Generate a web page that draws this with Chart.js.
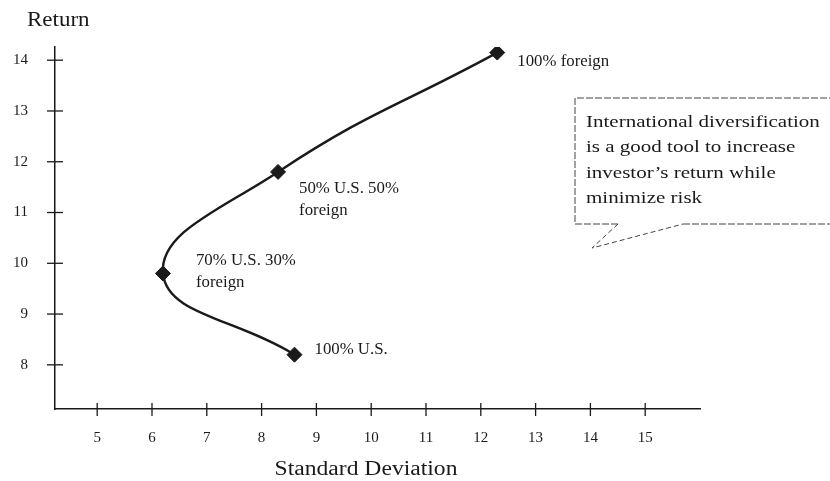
<!DOCTYPE html>
<html>
<head>
<meta charset="utf-8" />
<title>International Diversification</title>
<script src="https://cdn.jsdelivr.net/npm/chart.js"></script>
<style>
    body { margin: 0; padding: 0; background: #fff; }
    #wrap { width: 830px; height: 481px; }
</style>
</head>
<body>
<div id="wrap"><canvas id="chart" width="830" height="481"></canvas></div>
<script>
// portfolio mixes along the frontier, from all U.S. to all foreign
var mixLabels = [['100% U.S.'], ['70% U.S. 30%', 'foreign'], ['50% U.S. 50%', 'foreign'], ['100% foreign']];
var stdDev = [8.6, 6.2, 8.3, 12.3];
var returns = [8.2, 9.8, 11.8, 14.15];

// axis tick labels
var xTicks = [5, 6, 7, 8, 9, 10, 11, 12, 13, 14, 15];
var yTicks = [8, 9, 10, 11, 12, 13, 14];

var noteLines = ['International diversification', 'is a good tool to increase', 'investor\u2019s return while', 'minimize risk'];

var SERIF = '"Liberation Serif", "Times New Roman", serif';
var INK = '#1a1a1a';

// label offsets from each marker, in pixels
var labelOffsets = [[20, -5], [33, -13], [21, 17], [20, 9]];

// scanned text looks a bit wider than the font, so stretch it
function stretchText(ctx, text, x, y, size, sx) {
    ctx.save();
    ctx.font = size + 'px ' + SERIF;
    ctx.translate(x, y);
    ctx.scale(sx, 1);
    ctx.fillText(text, 0, 0);
    ctx.restore();
}

var decor = {
    id: 'decor',
    afterDraw: function(chart) {
        var ctx = chart.ctx, xs = chart.scales.x, ys = chart.scales.y;
        var area = chart.chartArea;
        ctx.save();

        // small crosses where the ticks sit
        ctx.strokeStyle = INK;
        ctx.lineWidth = 1.3;
        yTicks.forEach(function(v) {
            var py = ys.getPixelForValue(v);
            ctx.beginPath();
            ctx.moveTo(area.left - 8, py);
            ctx.lineTo(area.left + 8, py);
            ctx.stroke();
        });
        xTicks.forEach(function(v) {
            var px = xs.getPixelForValue(v);
            ctx.beginPath();
            ctx.moveTo(px, area.bottom - 6);
            ctx.lineTo(px, area.bottom + 7);
            ctx.stroke();
        });

        // axis titles
        ctx.fillStyle = INK;
        ctx.textBaseline = 'middle';
        ctx.textAlign = 'left';
        stretchText(ctx, 'Return', 27, 21, 20, 1.15);
        ctx.textAlign = 'center';
        stretchText(ctx, 'Standard Deviation', 366, 470, 20, 1.18);

        // labels next to the points
        ctx.textAlign = 'left';
        mixLabels.forEach(function(lines, i) {
            var px = xs.getPixelForValue(stdDev[i]) + labelOffsets[i][0];
            var py = ys.getPixelForValue(returns[i]) + labelOffsets[i][1];
            lines.forEach(function(t, k) {
                stretchText(ctx, t, px, py + k * 22, 16, 1.05);
            });
        });

        // callout box
        var bx = 575, by = 98, bw = 262, bh = 126;
        ctx.strokeStyle = '#444';
        ctx.lineWidth = 1;
        ctx.setLineDash([7, 2]);
        ctx.beginPath();
        ctx.moveTo(618, by + bh);
        ctx.lineTo(bx, by + bh);
        ctx.lineTo(bx, by);
        ctx.lineTo(bx + bw, by);
        ctx.moveTo(683, by + bh);
        ctx.lineTo(bx + bw, by + bh);
        ctx.stroke();
        ctx.setLineDash([5, 3]);
        ctx.beginPath();
        ctx.moveTo(618, by + bh);
        ctx.lineTo(592, 248);
        ctx.lineTo(683, by + bh);
        ctx.stroke();
        ctx.setLineDash([]);

        noteLines.forEach(function(t, k) {
            stretchText(ctx, t, 586, 122 + k * 25.5, 17.5, 1.2);
        });

        ctx.restore();
    }
};

new Chart(document.getElementById('chart'), {
    type: 'scatter',
    data: {
        datasets: [{
            data: stdDev.map(function(x, i) { return { x: x, y: returns[i] }; }),
            showLine: true,
            borderColor: INK,
            borderWidth: 2.4,
            tension: 0.45,
            pointStyle: 'rectRot',
            pointRadius: 7.5,
            pointBackgroundColor: INK,
            pointBorderColor: INK,
            pointBorderWidth: 1
        }]
    },
    options: {
        responsive: false,
        animation: false,
        devicePixelRatio: 1,
        // tick padding is counted twice in the axis size, hence the odd numbers
        layout: { padding: { left: -14, top: 47, right: 130, bottom: 14 } },
        plugins: {
            legend: { display: false },
            tooltip: { enabled: false }
        },
        scales: {
            x: {
                type: 'linear',
                min: 4.23,
                max: 16.0,
                grid: { display: false, drawTicks: false },
                border: { display: true, color: INK, width: 1.5 },
                ticks: { padding: 20, color: INK, font: { family: SERIF, size: 15 } },
                afterBuildTicks: function(s) { s.ticks = xTicks.map(function(v) { return { value: v }; }); }
            },
            y: {
                type: 'linear',
                min: 7.13,
                max: 14.26,
                grid: { display: false, drawTicks: false },
                border: { display: true, color: INK, width: 1.5 },
                ticks: { padding: 27, color: INK, font: { family: SERIF, size: 15 } },
                afterBuildTicks: function(s) { s.ticks = yTicks.map(function(v) { return { value: v }; }); }
            }
        }
    },
    plugins: [decor]
});
</script>
</body>
</html>
